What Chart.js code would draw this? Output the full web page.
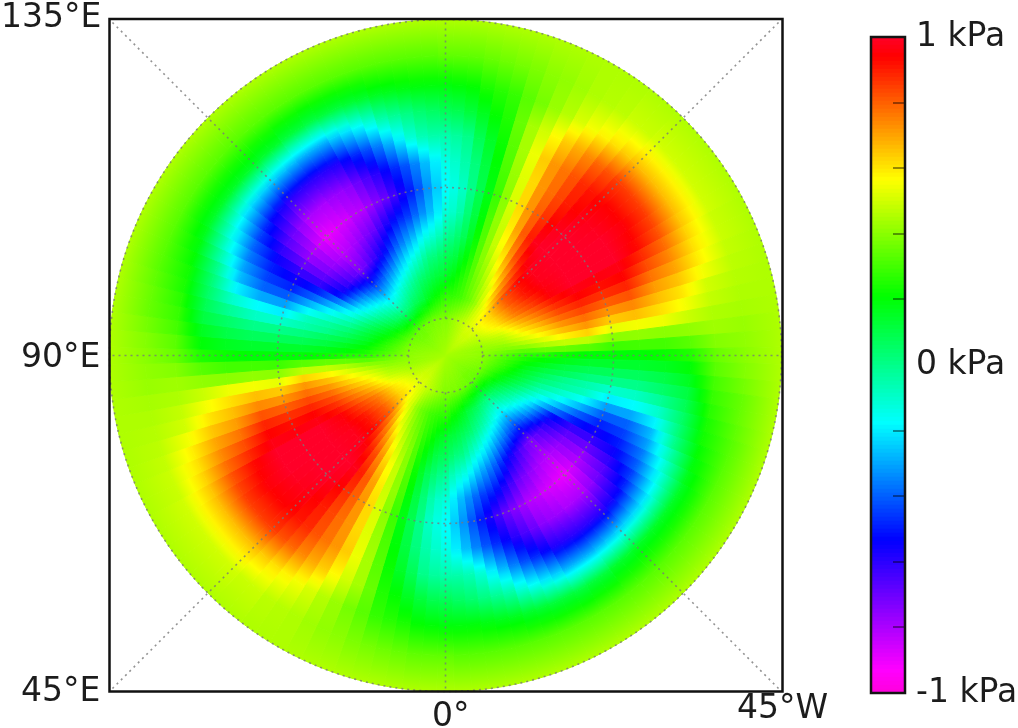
<!DOCTYPE html>
<html>
<head>
<meta charset="utf-8">
<title>Pressure map</title>
<script src="https://cdn.jsdelivr.net/npm/chart.js@4"></script>
<style>
  html, body { margin: 0; padding: 0; background: #fff; overflow: hidden; }
  canvas { position: absolute; left: 0; top: 0; }
</style>
</head>
<body>
<canvas id="disk" width="1018" height="728"></canvas>
<canvas id="bar" width="1018" height="728"></canvas>
<script>
// pressure in hundredths of a kPa
// each row: half a turn clockwise from the top, 3 degrees a sector
// (the map repeats after 180 degrees)
var ring336 = [45,45,45,45,45,45,45,45,45,45,45,45,45,45,45,45,45,45,45,45,45,45,45,45,45,45,45,45,45,45,45,45,45,45,45,45,45,45,45,45,45,45,45,45,45,45,45,45,45,45,45,45,45,45,45,45,45,45,45,45];
var ring300 = [34,34,34,35,36,37,38,40,41,43,45,46,47,49,49,50,50,50,50,50,50,49,49,48,47,46,45,44,42,41,40,39,37,35,35,34,33,33,33,33,33,33,33,33,33,33,33,33,33,33,33,33,33,33,33,33,33,33,33,33];
var ring270 = [19,20,21,24,26,28,33,37,42,46,51,55,58,61,64,66,66,66,66,66,65,63,61,59,55,50,48,45,43,39,35,33,30,28,26,24,23,21,19,17,15,15,15,15,15,15,14,14,12,12,11,12,12,13,14,16,17,18,19,19];
var ring245 = [8,9,12,16,21,25,35,44,50,57,64,69,74,79,82,85,85,85,85,84,82,78,74,70,65,60,55,49,41,33,25,20,16,11,8,5,3,0,-6,-11,-15,-18,-21,-23,-24,-25,-26,-27,-28,-28,-28,-24,-21,-17,-12,-5,-2,1,4,6];
var ring220 = [-5,-3,0,8,15,22,33,44,54,64,72,77,82,88,91,93,94,94,95,94,93,88,83,77,71,66,61,54,40,30,22,16,10,5,-2,-10,-19,-27,-31,-36,-40,-45,-49,-54,-57,-60,-60,-60,-60,-59,-58,-53,-48,-43,-36,-28,-20,-12,-7,-5];
var ring194 = [-14,-10,-5,2,11,20,31,42,52,62,72,78,84,90,94,97,98,99,100,100,100,97,94,89,82,74,66,55,41,30,20,14,7,0,-9,-18,-30,-40,-45,-50,-55,-61,-67,-71,-76,-80,-80,-80,-78,-77,-75,-70,-65,-60,-54,-48,-42,-35,-27,-20];
var ring168 = [-18,-14,-9,0,9,18,29,40,51,62,72,80,87,94,98,100,100,100,100,100,100,96,92,87,80,72,64,53,40,29,20,14,7,0,-10,-20,-31,-41,-49,-56,-62,-70,-77,-81,-86,-90,-89,-87,-86,-83,-82,-78,-74,-70,-64,-57,-50,-42,-33,-25];
var ring144 = [-12,-10,-5,3,11,20,31,41,49,59,70,81,90,98,100,100,100,100,100,100,100,97,94,89,84,78,72,63,47,33,20,14,8,2,-5,-8,-17,-28,-40,-50,-62,-68,-73,-77,-80,-82,-81,-79,-76,-73,-70,-64,-58,-52,-48,-45,-39,-33,-27,-20];
var ring120 = [-2,0,4,8,15,22,32,40,48,55,62,73,83,90,95,98,98,98,97,96,95,91,87,83,78,72,66,58,48,35,22,17,11,7,0,-3,-9,-16,-25,-36,-50,-56,-61,-65,-68,-72,-70,-66,-62,-57,-52,-46,-40,-35,-30,-25,-19,-14,-11,-7];
var ring100 = [8,9,11,16,20,25,32,39,43,49,55,63,71,79,86,92,91,91,90,87,85,81,77,73,68,63,58,52,45,35,25,20,16,11,7,3,-2,-7,-13,-19,-25,-30,-34,-39,-42,-45,-43,-41,-37,-34,-30,-25,-21,-16,-12,-8,-3,1,2,5];
var ring080 = [15,17,19,22,25,28,32,36,39,43,48,52,58,67,74,80,80,80,78,77,75,71,67,63,59,55,51,46,40,33,27,24,21,18,15,13,10,7,3,-1,-5,-8,-11,-14,-17,-20,-19,-17,-14,-11,-8,-5,-2,1,4,6,8,10,12,13];
var ring060 = [27,27,27,28,29,30,32,34,36,39,42,47,51,54,58,62,63,63,62,61,60,57,54,51,48,46,44,41,39,36,33,31,29,28,26,24,22,19,18,15,12,10,7,6,4,2,2,3,4,6,8,9,11,12,15,17,19,21,22,25];
var ring036 = [39,39,40,41,42,43,44,45,46,47,48,49,50,51,51,51,51,51,50,49,48,47,46,45,44,43,42,42,41,41,41,40,40,39,39,38,38,37,37,36,36,35,35,35,35,35,35,35,36,36,36,37,37,37,38,38,38,38,39,39];
var ring000 = [44,44,44,44,44,44,44,44,44,44,44,44,44,44,44,44,44,44,44,44,44,44,44,44,44,44,44,44,44,44,44,44,44,44,44,44,44,44,44,44,44,44,44,44,44,44,44,44,44,44,44,44,44,44,44,44,44,44,44,44];

var ringRows = [ring336, ring300, ring270, ring245, ring220, ring194, ring168, ring144, ring120, ring100, ring080, ring060, ring036, ring000];
var ringEdges = [336, 300, 270, 245, 220, 194, 168, 144, 120, 100, 80, 60, 36, 0];

var angleLabels = ['135°E', '90°E', '45°E', '0°', '45°W'];
var angleLabelSpots = [[1, 27], [21, 367], [21, 701], [432, 726], [737, 718]];
var gridAngles = [0, 45, 90, 135, 180, 225, 270, 315];
var gridCircles = [37, 168, 336];

var colorbarTicks = [1, 0, -1];
var colorbarLabels = ['1 kPa', '0 kPa', '-1 kPa'];

var colorStops = [
    [-1, 255, 0, 220], [-0.93, 255, 0, 255], [-0.534, 0, 0, 255], [-0.177, 0, 255, 255],
    [0.207, 0, 255, 0], [0.564, 255, 255, 0], [0.94, 255, 0, 0], [1, 255, 0, 40]
];

function pressureColor(v) {
    v = Math.max(-1, Math.min(1, v));
    for (var i = 1; i < colorStops.length; i++) {
        if (v <= colorStops[i][0]) {
            var a = colorStops[i - 1], b = colorStops[i];
            var t = (v - a[0]) / (b[0] - a[0]);
            return 'rgb(' + Math.round(a[1] + (b[1] - a[1]) * t) + ',' +
                Math.round(a[2] + (b[2] - a[2]) * t) + ',' +
                Math.round(a[3] + (b[3] - a[3]) * t) + ')';
        }
    }
    return 'rgb(255,0,40)';
}

var font = '"DejaVu Sans", sans-serif';
var inkColor = '#1c1c1c';
var diskX = 445.5, diskY = 355.5;

// colour runs smoothly across a ring from its inner row to its outer row
function sectorFill(c) {
    if (c.type !== 'data') { return '#aaff00'; }
    var j = c.datasetIndex;
    var half = ringRows[j].length;
    var outer = ringRows[j][c.dataIndex % half] / 100;
    var inner = ringRows[j + 1][c.dataIndex % half] / 100;
    var g = c.chart.ctx.createRadialGradient(diskX, diskY, ringEdges[j + 1], diskX, diskY, ringEdges[j]);
    for (var s = 0; s <= 4; s++) {
        g.addColorStop(s / 4, pressureColor(inner + (outer - inner) * s / 4));
    }
    return g;
}

var diskDatasets = [];
for (var j = 0; j < ringRows.length - 1; j++) {
    diskDatasets.push({
        data: ringRows[j].concat(ringRows[j]).map(function () { return 1; }),
        weight: ringEdges[j] - ringEdges[j + 1],
        backgroundColor: sectorFill,
        borderColor: sectorFill,
        borderWidth: 1
    });
}

var diskOverlay = {
    id: 'diskOverlay',
    afterDraw: function (chart) {
        var ctx = chart.ctx, a = chart.chartArea;
        ctx.save();
        ctx.strokeStyle = 'rgba(120,120,120,0.8)';
        ctx.lineWidth = 1.6;
        ctx.setLineDash([2, 4]);
        gridCircles.forEach(function (r) {
            ctx.beginPath();
            ctx.arc(diskX, diskY, r, 0, Math.PI * 2);
            ctx.stroke();
        });
        gridAngles.forEach(function (deg) {
            var t = deg * Math.PI / 180;
            var len = deg % 90 === 0 ? 336 : 336 * Math.SQRT2;
            ctx.beginPath();
            ctx.moveTo(diskX + 37 * Math.sin(t), diskY - 37 * Math.cos(t));
            ctx.lineTo(diskX + len * Math.sin(t), diskY - len * Math.cos(t));
            ctx.stroke();
        });
        ctx.setLineDash([]);
        ctx.strokeStyle = '#111';
        ctx.lineWidth = 2.5;
        ctx.strokeRect(a.left + 0.5, a.top, a.right - a.left, a.bottom - a.top - 0.5);
        ctx.fillStyle = inkColor;
        ctx.font = '33px ' + font;
        ctx.textAlign = 'left';
        ctx.textBaseline = 'alphabetic';
        angleLabels.forEach(function (s, i) {
            ctx.fillText(s, angleLabelSpots[i][0], angleLabelSpots[i][1]);
        });
        ctx.restore();
    }
};

new Chart(document.getElementById('disk').getContext('2d'), {
    type: 'doughnut',
    data: { labels: ring000.concat(ring000).map(function (v, i) { return i * 3 + '°'; }), datasets: diskDatasets },
    options: {
        responsive: false,
        animation: false,
        events: [],
        cutout: 0,
        rotation: -1.5,
        layout: { padding: { left: 109, right: 236, top: 19, bottom: 36 } },
        plugins: { legend: { display: false }, tooltip: { enabled: false } }
    },
    plugins: [diskOverlay]
});

// colour bar, one floating bar per step
var barDatasets = [];
var barSteps = 164;
for (var k = 0; k < barSteps; k++) {
    var lo = -1 + 2 * k / barSteps, hi = -1 + 2 * (k + 1) / barSteps;
    barDatasets.push({
        data: [[lo, hi]],
        backgroundColor: pressureColor((lo + hi) / 2),
        grouped: false,
        barPercentage: 1,
        categoryPercentage: 1
    });
}

var barOverlay = {
    id: 'barOverlay',
    afterDraw: function (chart) {
        var ctx = chart.ctx, a = chart.chartArea, y = chart.scales.y;
        ctx.save();
        ctx.strokeStyle = 'rgba(0,0,0,0.55)';
        ctx.lineWidth = 1.5;
        y.ticks.forEach(function (t) {
            var p = Math.round(y.getPixelForValue(t.value));
            if (t.label === '') {
                ctx.beginPath();
                ctx.moveTo(a.right - 12, p);
                ctx.lineTo(a.right - 1, p);
                ctx.stroke();
            }
        });
        ctx.strokeStyle = '#141414';
        ctx.lineWidth = 2.5;
        ctx.strokeRect(a.left, a.top, a.right - a.left, a.bottom - a.top);
        ctx.restore();
    }
};

new Chart(document.getElementById('bar').getContext('2d'), {
    type: 'bar',
    data: { labels: ['kPa'], datasets: barDatasets },
    options: {
        responsive: false,
        animation: false,
        events: [],
        layout: { padding: { left: 871, right: 0, top: 37, bottom: 35 } },
        plugins: { legend: { display: false }, tooltip: { enabled: false } },
        scales: {
            x: { display: false },
            y: {
                position: 'right',
                min: -1,
                max: 1,
                afterFit: function (s) { s.width = 113; },
                grid: { display: false, drawTicks: false },
                border: { display: false },
                ticks: {
                    stepSize: 0.2,
                    autoSkip: false,
                    maxRotation: 0,
                    padding: 11,
                    color: inkColor,
                    font: { family: font, size: 33 },
                    callback: function (v) {
                        var i = colorbarTicks.indexOf(Math.round(v * 10) / 10);
                        return i < 0 ? '' : colorbarLabels[i];
                    }
                }
            }
        }
    },
    plugins: [barOverlay]
});
</script>
</body>
</html>
